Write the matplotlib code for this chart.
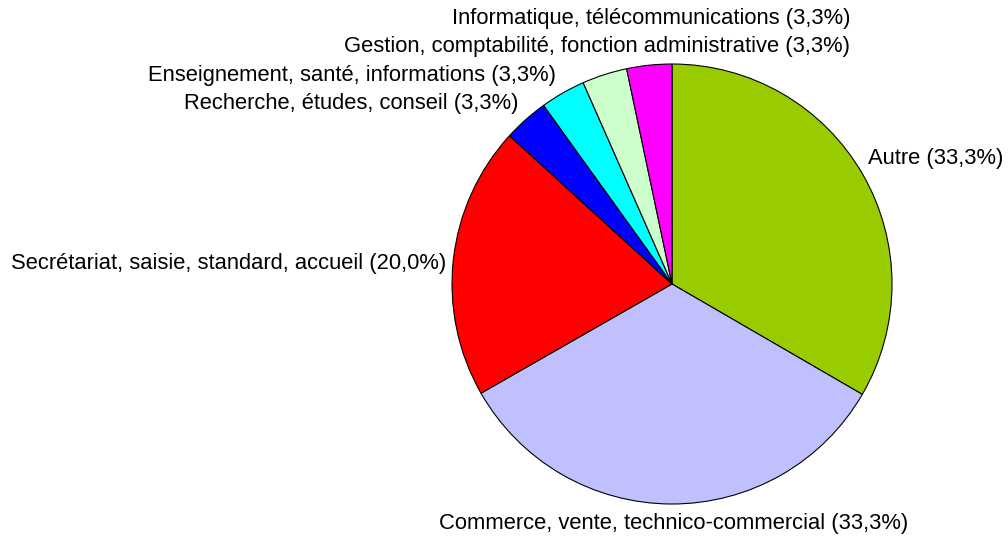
import matplotlib
matplotlib.use("Agg")
import matplotlib.pyplot as plt

labels = ["Autre", "Commerce, vente, technico-commercial",
          "Secrétariat, saisie, standard, accueil",
          "Recherche, études, conseil",
          "Enseignement, santé, informations",
          "Gestion, comptabilité, fonction administrative",
          "Informatique, télécommunications"]
values = [33.3, 33.3, 20.0, 3.3, 3.3, 3.3, 3.3]
pct_text = ["33,3%", "33,3%", "20,0%", "3,3%", "3,3%", "3,3%", "3,3%"]
colors = ["#99CC00", "#C0C0FF", "#FF0000", "#0000FF", "#00FFFF", "#CCFFCC", "#FF00FF"]

W, H = 1008, 537
fig = plt.figure(figsize=(W / 100, H / 100), dpi=100)
cx, cy, R = 672, 284, 220
ax = fig.add_axes([(cx - R) / W, (H - cy - R) / H, 2 * R / W, 2 * R / H])
ax.pie(values, colors=colors, startangle=90, counterclock=False,
       wedgeprops=dict(edgecolor="black", linewidth=0.8), radius=1.0)
ax.set_xlim(-1, 1)
ax.set_ylim(-1, 1)
ax.set_aspect("equal")
ax.axis("off")

# label anchor positions in pixels (layout only)
pos = [(868, 158, "left"), (674, 524, "center"), (446, 263, "right"),
       (518, 103, "right"), (556, 75, "right"), (850, 46, "right"),
       (850, 18, "right")]
for lab, p, (px, py, ha) in zip(labels, pct_text, pos):
    ax.text((px - cx) / R, (cy - py) / R, f"{lab} ({p})", ha=ha, va="center",
            fontsize=15.8, family="Liberation Sans", clip_on=False)

fig.savefig("out.png", dpi=100)
